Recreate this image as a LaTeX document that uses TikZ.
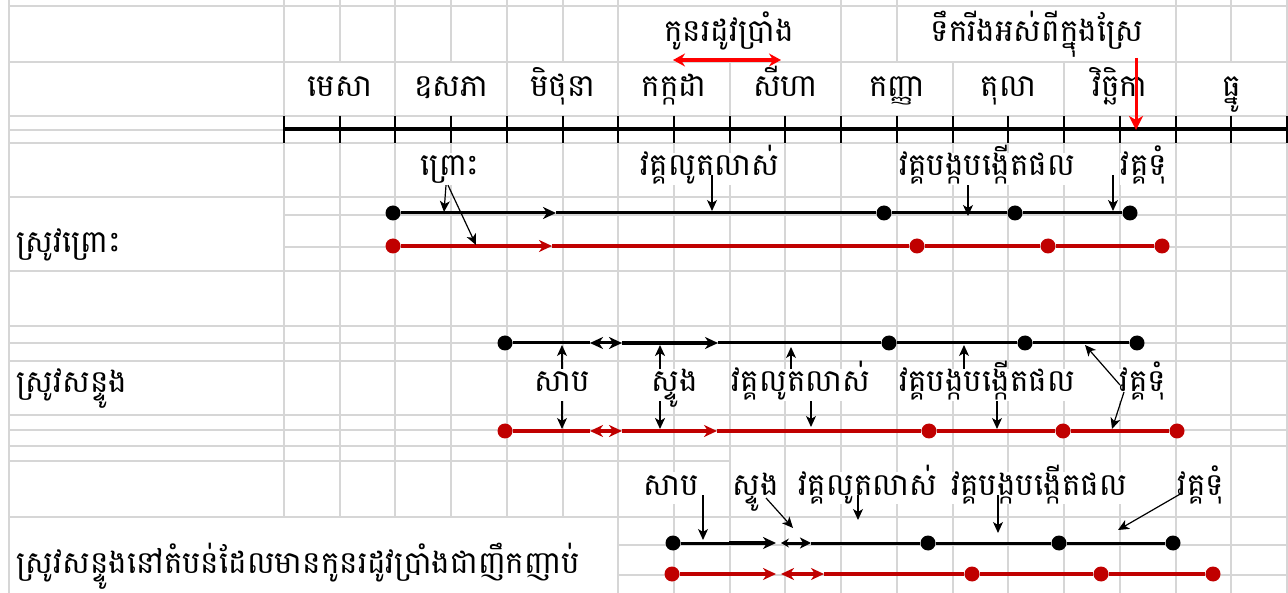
\documentclass[tikz,border=0pt]{standalone}
\usepackage{fontspec}
\newfontfamily\khmerfont[Script=Khmer]{Battambang}
\usetikzlibrary{arrows.meta}
\definecolor{gridgray}{HTML}{D6D6D6}
\definecolor{ricered}{HTML}{C00000}
\definecolor{markred}{HTML}{FF0000}

\begin{document}
\begin{tikzpicture}[x=1pt, y=-1pt,
    font=\khmerfont\fontsize{31}{34}\selectfont,
    >={Stealth[length=13pt, width=12pt, inset=4pt]},
    gridline/.style={gridgray, line width=2pt},
    lbl/.style={fill=white, inner sep=1pt, anchor=base, text height=22pt, text depth=8pt},
    blkline/.style={line width=3pt},
    redline/.style={ricered, line width=3.5pt},
    blkdot/.style={circle, fill=black, inner sep=0pt, minimum size=15pt},
    reddot/.style={circle, fill=ricered, inner sep=0pt, minimum size=15pt},
    pointer/.style={-{Stealth[length=11pt, width=10pt, inset=3pt]}, line width=1.2pt},
    shorttips/.style={{Stealth[length=8pt, width=9pt, inset=3pt]}-{Stealth[length=11pt, width=11pt, inset=3pt]}},
    bigtip/.style={-{Stealth[length=14pt, width=14pt, inset=4pt]}}]
    \useasboundingbox (0,0) rectangle (1288,593);

    % Sheet grid
    \draw[gridline] (9,0) -- (9,593);
    \foreach \y in {6,62,116,143,197,271,326,343,361,415,430,446,517}
        \draw[gridline] (9,\y) -- (1287,\y);
    \draw[gridline] (9,130) -- (284,130);
    \draw[gridline] (9,461) -- (730,461);
    \foreach \y in {215,247}
        \draw[gridline] (284,\y) -- (1287,\y);
    \foreach \y in {545,575}
        \draw[gridline] (618,\y) -- (1287,\y);
    \foreach \k in {0,...,6,10,11,16,17,18}
        \draw[gridline] (284+55.72*\k,0) -- (284+55.72*\k,62);
    \foreach \k in {0,2,...,18}
        \draw[gridline] (284+55.72*\k,62) -- (284+55.72*\k,116);
    \foreach \k in {0,...,5}
        \draw[gridline] (284+55.72*\k,143) -- (284+55.72*\k,517);
    \foreach \k in {6,...,18}
        \draw[gridline] (284+55.72*\k,143) -- (284+55.72*\k,593);

    % Month axis
    \draw[line width=3.5pt] (284,129) -- (1287,129);
    \foreach \k in {0,...,18}
        \draw[line width=2pt] (284+55.72*\k,116) -- (284+55.72*\k,143);
    \foreach \m [count=\i] in {មេសា,ឧសភា,មិថុនា,កក្កដា,សីហា,កញ្ញា,តុលា,វិច្ឆិកា,ធ្នូ}
        \node[lbl] (month\i) at (284+111.44*\i-55.72,97) {\m};

    % Dry spell and drained field
    \node[lbl] (dryspell) at (729,42) {កូនរដូវប្រាំង};
    \coordinate (dryL) at (673,60);
    \coordinate (dryR) at (781,60);
    \draw[{Stealth[length=12pt, width=13pt, inset=4pt]}-{Stealth[length=12pt, width=13pt, inset=4pt]}, markred, line width=3.5pt] (dryL) -- (dryR);
    \node[lbl] (drained) at (1037,42) {ទឹករីងអស់ពីក្នុងស្រែ};
    \coordinate (drainTop) at (1136,58);
    \coordinate (drainTip) at (1136,130);
    \draw[bigtip, markred, line width=3pt] (drainTop) -- (drainTip);

    % Row labels
    \node[lbl, anchor=base west] (broadcast) at (15,253) {ស្រូវព្រោះ};
    \node[lbl, anchor=base west] (transplant) at (15,393) {ស្រូវសន្ទូង};
    \node[lbl, anchor=base west] (transdry) at (15,573) {ស្រូវសន្ទូងនៅតំបន់ដែលមានកូនរដូវប្រាំងជាញឹកញាប់};

    % Broadcast rice
    \node[lbl] (sowA) at (450,176) {ព្រោះ};
    \node[lbl] (growA) at (710,176) {វគ្គលូតលាស់};
    \node[lbl] (flowerA) at (987,176) {វគ្គបង្កបង្កើតផល};
    \node[lbl] (ripeA) at (1144,176) {វគ្គទុំ};

    \node[blkdot] (stageA1) at (393,213) {};
    \node[blkdot] (stageA2) at (884,213) {};
    \node[blkdot] (stageA3) at (1015,213) {};
    \node[blkdot] (stageA4) at (1130,213) {};
    \coordinate (midA) at (556,213);
    \draw[blkline, ->] (stageA1) -- (midA);
    \draw[blkline] (midA) -- (stageA2) -- (stageA3) -- (stageA4);

    \node[reddot] (redA1) at (393,246) {};
    \node[reddot] (redA2) at (917,246) {};
    \node[reddot] (redA3) at (1048,246) {};
    \node[reddot] (redA4) at (1162,246) {};
    \coordinate (midAr) at (552,246);
    \draw[redline, ->] (redA1) -- (midAr);
    \draw[redline] (midAr) -- (redA2) -- (redA3) -- (redA4);

    \coordinate (hitA1) at (444,212);
    \coordinate (hitA2) at (476,245);
    \coordinate (hitA3) at (712,211);
    \coordinate (hitA4) at (968,216);
    \coordinate (hitA5) at (1113,211);
    \draw[pointer] ([xshift=-4pt]sowA.south) -- (hitA1);
    \draw[pointer] ([xshift=-2pt]sowA.south) -- (hitA2);
    \draw[pointer] ([xshift=2pt, yshift=-6pt]growA.center) -- (hitA3);
    \draw[pointer] ([xshift=-19pt]flowerA.south) -- (hitA4);
    \draw[pointer] ([xshift=-31pt, yshift=-6pt]ripeA.center) -- (hitA5);

    % Transplanted rice
    \node[lbl] (sowB) at (562,392) {សាប};
    \node[lbl] (plantB) at (675,392) {ស្ទូង};
    \node[lbl] (growB) at (801,392) {វគ្គលូតលាស់};
    \node[lbl] (flowerB) at (987,392) {វគ្គបង្កបង្កើតផល};
    \node[lbl] (ripeB) at (1143,392) {វគ្គទុំ};

    \node[blkdot] (stageB1) at (505,343) {};
    \node[blkdot] (stageB2) at (889,343) {};
    \node[blkdot] (stageB3) at (1025,343) {};
    \node[blkdot] (stageB4) at (1137,343) {};
    \coordinate (nurseB) at (590,343);
    \coordinate (fieldB) at (622,343);
    \coordinate (midB) at (718,343);
    \draw[blkline] (stageB1) -- (nurseB);
    \draw[blkline, <->] (nurseB) -- (fieldB);
    \draw[line width=4pt, ->] (fieldB) -- (midB);
    \draw[blkline] (midB) -- (stageB2) -- (stageB3) -- (stageB4);

    \node[reddot] (redB1) at (505,431) {};
    \node[reddot] (redB2) at (929,431) {};
    \node[reddot] (redB3) at (1063,431) {};
    \node[reddot] (redB4) at (1177,431) {};
    \coordinate (nurseBr) at (590,431);
    \coordinate (fieldBr) at (622,431);
    \coordinate (midBr) at (717,431);
    \draw[redline] (redB1) -- (nurseBr);
    \draw[redline, <->] (nurseBr) -- (fieldBr);
    \draw[redline, ->] (fieldBr) -- (midBr);
    \draw[redline] (midBr) -- (redB2) -- (redB3) -- (redB4);

    \coordinate (upB1) at (562,345);
    \coordinate (downB1) at (562,429);
    \coordinate (upB2) at (660,345);
    \coordinate (downB2) at (660,429);
    \coordinate (upB3) at (791,347);
    \coordinate (downB3) at (811,427);
    \coordinate (upB4) at (964,345);
    \coordinate (downB4) at (997,429);
    \coordinate (upB5) at (1085,345);
    \coordinate (downB5) at (1112,429);
    \draw[pointer] (sowB.north) -- (upB1);
    \draw[pointer] (sowB.south) -- (downB1);
    \draw[pointer, line width=2.5pt] ([xshift=-15pt]plantB.north) -- (upB2);
    \draw[pointer, line width=2.5pt] ([xshift=-15pt]plantB.south) -- (downB2);
    \draw[pointer] ([xshift=-10pt]growB.north) -- (upB3);
    \draw[pointer] ([xshift=10pt]growB.south) -- (downB3);
    \draw[pointer] ([xshift=-23pt]flowerB.north) -- (upB4);
    \draw[pointer] ([xshift=10pt]flowerB.south) -- (downB4);
    \draw[pointer] ([xshift=-23pt]ripeB.center) -- (upB5);
    \draw[pointer] ([xshift=-19pt, yshift=-7pt]ripeB.center) -- (downB5);

    % Transplanted rice with frequent dry spells
    \node[lbl] (sowC) at (671,495) {សាប};
    \node[lbl] (plantC) at (756,495) {ស្ទូង};
    \node[lbl] (growC) at (868,495) {វគ្គលូតលាស់};
    \node[lbl] (flowerC) at (1039,495) {វគ្គបង្កបង្កើតផល};
    \node[lbl] (ripeC) at (1201,495) {វគ្គទុំ};

    \node[blkdot] (stageC1) at (673,543) {};
    \node[blkdot] (stageC2) at (928,543) {};
    \node[blkdot] (stageC3) at (1059,543) {};
    \node[blkdot] (stageC4) at (1173,543) {};
    \coordinate (nurseC) at (729,543);
    \coordinate (fieldC) at (776,543);
    \coordinate (backC) at (781,543);
    \coordinate (againC) at (811,543);
    \draw[blkline] (stageC1) -- (nurseC);
    \draw[line width=4pt, ->] (nurseC) -- (fieldC);
    \draw[blkline, shorttips] (backC) -- (againC);
    \draw[blkline] (againC) -- (stageC2) -- (stageC3) -- (stageC4);

    \node[reddot] (redC1) at (672,574) {};
    \node[reddot] (redC2) at (972,574) {};
    \node[reddot] (redC3) at (1101,574) {};
    \node[reddot] (redC4) at (1213,574) {};
    \coordinate (fieldCr) at (776,574);
    \coordinate (backCr) at (781,574);
    \coordinate (againCr) at (824,574);
    \draw[redline, ->] (redC1) -- (fieldCr);
    \draw[redline, <->] (backCr) -- (againCr);
    \draw[redline] (againCr) -- (redC2) -- (redC3) -- (redC4);

    \coordinate (hitC1) at (703,540);
    \coordinate (hitC2) at (793,528);
    \coordinate (hitC3) at (858,520);
    \coordinate (hitC4) at (998,533);
    \coordinate (hitC5) at (1118,530);
    \draw[pointer] ([xshift=32pt, yshift=-7pt]sowC.center) -- (hitC1);
    \draw[pointer] ([xshift=10pt, yshift=-10pt]plantC.center) -- (hitC2);
    \draw[pointer] ([xshift=-10pt, yshift=-7pt]growC.center) -- (hitC3);
    \draw[pointer] ([xshift=-41pt, yshift=-7pt]flowerC.center) -- (hitC4);
    \draw[pointer] ([xshift=-19pt, yshift=-5pt]ripeC.center) -- (hitC5);
\end{tikzpicture}
\end{document}
